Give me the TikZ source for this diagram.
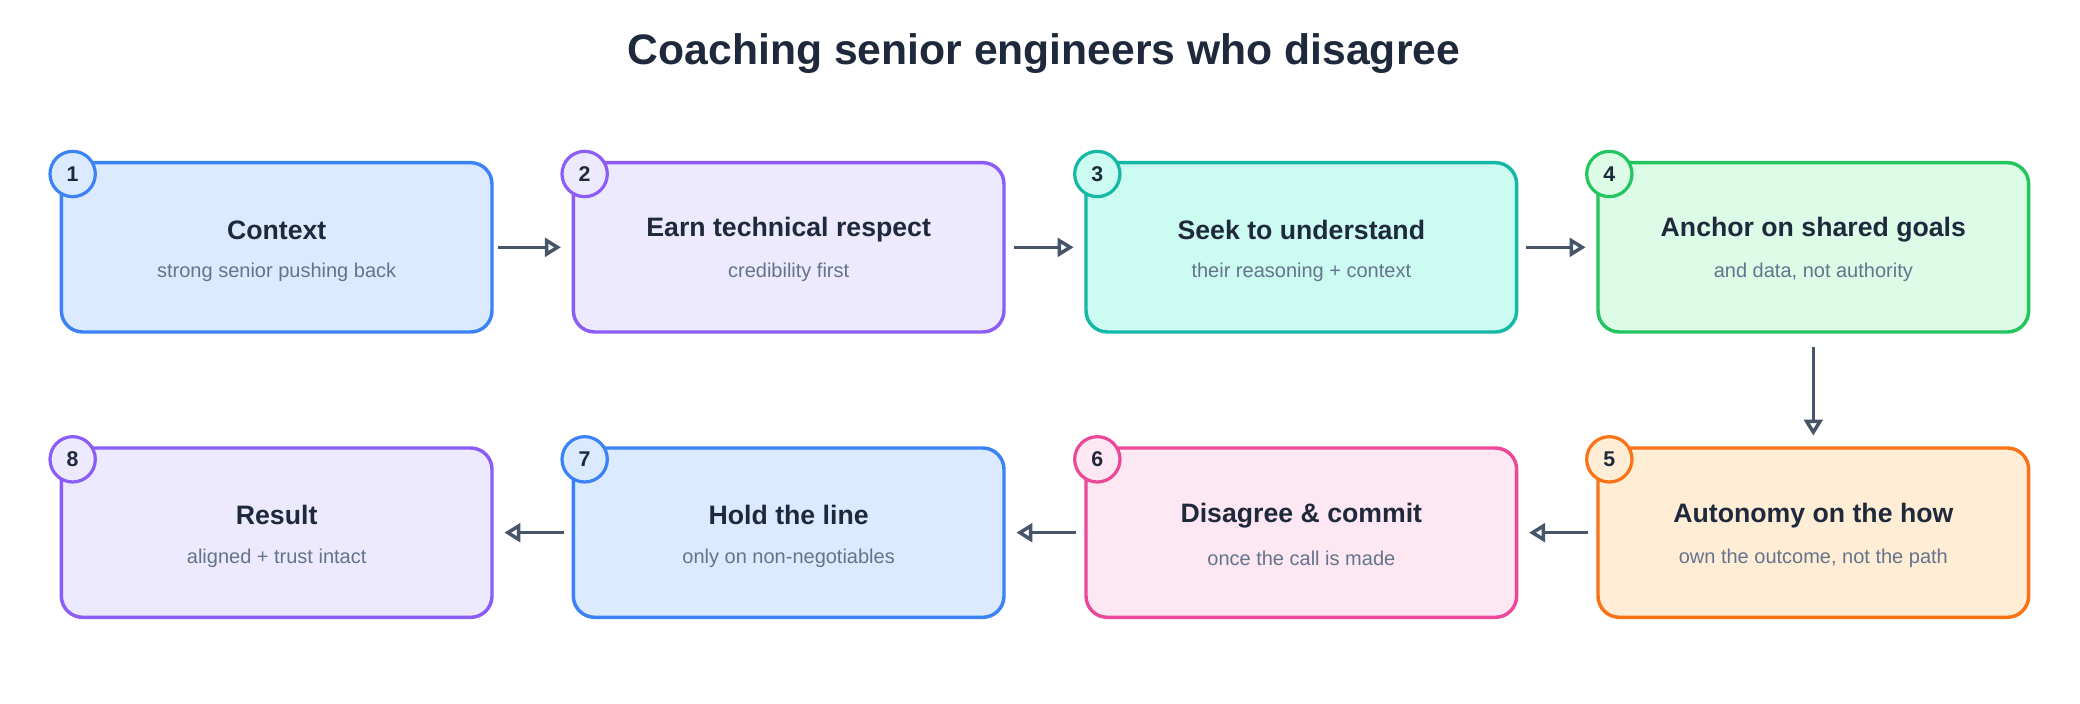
\documentclass[tikz,border=0pt]{standalone}
\usepackage{fontspec}
\setmainfont{Liberation Sans}
\usetikzlibrary{arrows.meta}
\definecolor{f1}{HTML}{DBEAFE}\definecolor{s1}{HTML}{3B82F6}
\definecolor{f2}{HTML}{EDE9FE}\definecolor{s2}{HTML}{8B5CF6}
\definecolor{f3}{HTML}{CCFBF1}\definecolor{s3}{HTML}{14B8A6}
\definecolor{f4}{HTML}{DCFCE7}\definecolor{s4}{HTML}{22C55E}
\definecolor{f5}{HTML}{FFEDD5}\definecolor{s5}{HTML}{F97316}
\definecolor{f6}{HTML}{FCE7F3}\definecolor{s6}{HTML}{EC4899}
\definecolor{tx}{HTML}{1E293B}\definecolor{sub}{HTML}{64748B}
\definecolor{ar}{HTML}{475569}
\begin{document}
\begin{tikzpicture}[x=0.5pt,y=-0.5pt,
 box/.style={draw=s#1,fill=f#1,line width=1.3pt,rounded corners=8pt,minimum width=161.5pt,minimum height=63.5pt,inner sep=0pt},
 num/.style={circle,draw=s#1,fill=f#1,line width=1.2pt,minimum size=17pt,inner sep=0pt,font=\fontsize{8}{9}\selectfont\bfseries,text=tx},
 ttl/.style={font=\fontsize{10}{12}\selectfont\bfseries,text=tx},
 sb/.style={font=\fontsize{7.5}{9}\selectfont,text=sub},
 arr/.style={-{Stealth[length=6pt,width=7pt,inset=0pt,open]},draw=ar,line width=1.3pt,shorten >=1pt}]
\useasboundingbox (0,0) rectangle (1560,528);
\node[font=\fontsize{16}{19}\selectfont\bfseries,text=tx] (title) at (783,40) {Coaching senior engineers who disagree};
\foreach \i/\x/\y/\c/\t/\s in {
 1/207.5/185.5/1/Context/strong senior pushing back,
 2/591.5/185.5/2/Earn technical respect/credibility first,
 3/976/185.5/3/Seek to understand/their reasoning + context,
 4/1360/185.5/4/Anchor on shared goals/{and data, not authority},
 5/1360/399.5/5/Autonomy on the how/{own the outcome, not the path},
 6/976/399.5/6/Disagree \& commit/once the call is made,
 7/591.5/399.5/1/Hold the line/only on non-negotiables,
 8/207.5/399.5/2/Result/aligned + trust intact}{
 \node[box=\c] (b\i) at (\x,\y) {};
 \node[ttl] (t\i) at (\x,\y-13) {\t};
 \node[sb] (s\i) at (\x,\y+19) {\s};
 \node[num=\c] (n\i) at (\x-153,\y-55) {\i};
}
\draw[arr] (b1.east)++(3,0) coordinate (a1) -- ([xshift=-3]b2.west);
\draw[arr] ([xshift=3]b2.east) -- ([xshift=-3]b3.west);
\draw[arr] ([xshift=3]b3.east) -- ([xshift=-3]b4.west);
\draw[arr] ([yshift=-5]b4.south) -- ([yshift=3]b5.north);
\draw[arr] ([xshift=-3]b5.west) -- ([xshift=3]b6.east);
\draw[arr] ([xshift=-3]b6.west) -- ([xshift=3]b7.east);
\draw[arr] ([xshift=-3]b7.west) -- ([xshift=3]b8.east);
\end{tikzpicture}
\end{document}
